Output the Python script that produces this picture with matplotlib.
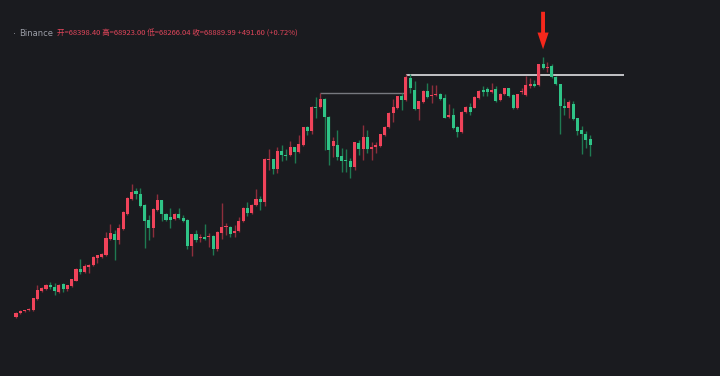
import numpy as np
import matplotlib
matplotlib.use('Agg')
import matplotlib.pyplot as plt

# candle values (screen rows, smaller = higher price)
opens = [317.3, 313.3, 311.3, 310.3, 310, 299, 291, 289.3, 284.7, 286.7,
         292, 284, 289.3, 286, 280.7, 269.3, 272, 267.3, 265.3, 258,
         257.3, 254.7, 239.3, 233.7, 240.3, 229, 213.7, 199, 191, 193.7,
         205, 220.3, 227.7, 209.7, 200.3, 213.7, 217, 219, 213.7, 217.7,
         219.7, 246.3, 234.3, 238.3, 237, 237.3, 236, 248.7, 232.7, 227.3,
         226.7, 233.3, 230.7, 220.7, 208, 213.3, 205.3, 198.7, 202, 160,
         159.3, 168.7, 150.7, 154.7, 155.3, 147.3, 152, 144.7, 126.7, 131.3,
         106.7, 107.3, 98.7, 117, 146, 145, 156, 160, 161.3, 166.7,
         142.7, 149.3, 137.3, 148.7, 147.3, 146, 135.3, 126.7, 112.7, 108,
         96, 100, 77.5, 90, 109.3, 102, 90.7, 96, 95.3, 94,
         98, 117.3, 115.3, 127, 132.3, 112.3, 107, 107.7, 98.3, 89.7,
         89, 91.7, 89, 100.3, 94.3, 88.3, 95, 107.7, 92.3, 95,
         85.7, 83.7, 85, 64.3, 68.3, 66.3, 77, 84.3, 105.7, 107.7,
         103.7, 118.3, 130.3, 133.7, 139]
highs = [312, 310, 309.5, 308, 297.5, 284.7, 287, 284, 282, 282.7,
         284, 283, 285, 278.5, 268, 258.7, 264, 264, 256, 254.5,
         253, 232, 223.5, 229.7, 223.7, 211, 197, 184.3, 187.7, 187.7,
         204, 215, 208, 194.3, 199.5, 212.5, 208.3, 213, 207.7, 215,
         219, 233.5, 230.3, 234.3, 223.5, 233, 235, 231, 202.7, 223,
         225.5, 224.7, 217.3, 207, 202, 204, 189.3, 196, 158, 149.3,
         158.5, 146.7, 144.7, 149.3, 140.7, 146.5, 135.3, 126.5, 126, 106,
         97.3, 93.3, 98, 116, 137.3, 130, 148, 149.3, 158, 141.5,
         140, 125.3, 130, 142, 141.7, 133.5, 126, 112, 99.3, 95.5,
         93.3, 73.7, 74, 80.7, 100.5, 90, 83.3, 85, 84.7, 93,
         94, 104, 108, 126, 111, 106, 103, 96, 90, 86,
         87, 83, 86, 93, 87.5, 87.5, 94, 93.5, 88.3, 76.3,
         77.7, 80, 63.5, 57, 62.3, 63.7, 76, 83.5, 98.3, 99.7,
         101, 117.5, 126.3, 131, 135]
lows = [318, 314, 312, 311, 310.5, 300, 292, 290, 288.7, 295.3,
        293, 292, 291, 287, 281, 274, 273, 272.7, 266, 262.7,
        258, 255.5, 240, 260.3, 243.7, 230, 214.5, 200, 199, 206.5,
        248.3, 240.3, 237, 210.5, 221, 220.5, 228.3, 220, 219, 222,
        249, 256.3, 241.7, 241.7, 240, 246.7, 254.7, 251.3, 239.3, 234.7,
        237.3, 237.3, 231.5, 221.5, 216, 214, 206, 210, 206, 170,
        174, 172.7, 160.7, 160, 156, 163.3, 152.7, 145.5, 135, 133.7,
        118.3, 108, 150, 165, 156.7, 160, 172, 172, 178, 170,
        155, 160, 153.3, 160, 153, 146.5, 136, 127.5, 121.7, 108.5,
        110, 100.5, 93.3, 109.5, 120, 102.5, 98, 103, 96, 100,
        118, 118, 128.5, 137, 133, 113, 115, 108, 99, 96,
        95.7, 92.5, 102, 101, 95, 96.5, 108.5, 108.5, 94.3, 96,
        88.3, 86.5, 85.5, 69, 72.3, 77.5, 85, 134.3, 115, 118.3,
        119.5, 135, 153.7, 148, 156.3]
closes = [312.7, 310.7, 310, 308.7, 298, 290, 288, 284.7, 287.3, 291.3,
          284.7, 288.7, 285.3, 279.3, 269.3, 272, 266, 264.7, 256.7, 255.3,
          254, 238, 233.3, 239.7, 227.7, 212.3, 197.7, 191.7, 194.3, 205.7,
          221, 228.3, 209, 199.7, 214.3, 219.7, 219.7, 213.7, 218.3, 221,
          246.3, 234.3, 239.7, 237, 239, 236, 248.7, 232, 226.7, 226,
          234, 230.7, 220.7, 208, 213.3, 204.7, 198.7, 202, 159.3, 158.7,
          168.7, 150.7, 155.3, 156, 147.3, 152, 144, 127.3, 131.3, 106.7,
          107.7, 98.7, 117.3, 150, 141.3, 157, 160.7, 161.3, 166.7, 142,
          149.3, 137.3, 148.7, 146.7, 145.3, 134, 126.7, 112.7, 107.3, 96,
          100, 77.3, 88, 108.7, 101.3, 90.7, 97.3, 94.7, 94, 99.3,
          117.5, 115.3, 128, 132, 111.7, 107, 111.7, 97, 91, 92.3,
          92, 89.7, 101, 93.7, 88.3, 95.7, 107.7, 94.3, 91, 85,
          83.7, 85.7, 64.3, 68.3, 67, 77, 84.3, 105.7, 108.3, 102.3,
          119, 131, 133.7, 139.7, 145]

peak_idx = 123          # candle marked by the arrow
prev_top_idx = 71       # earlier swing high
break_idx = 91          # candle that set the resistance line

header_name = 'Binance'
header_vals = '开=68398.40 高=68923.00 低=68266.04 收=68889.99 +491.60 (+0.72%)'

BG = '#1a1b1f'
UP = '#f0435a'
DOWN = '#2fc487'
UP_WICK = '#8e2e3c'
DOWN_WICK = '#1f7a52'

W, H = 720, 376
fig = plt.figure(figsize=(W / 100, H / 100), dpi=100, facecolor=BG)
ax = fig.add_axes([0, 0, 1, 1])
ax.set_facecolor(BG)

o = np.array(opens); c = np.array(closes)
hi = np.array(highs); lo = np.array(lows)
idx = np.arange(len(o))
up = c < o   # rows grow downward, so a smaller close row means a rise

step = 4.285   # pixels per candle
x0 = 16
ax.set_xlim(-x0 / step, (W - x0) / step)
ax.set_ylim(H, 0)

wick_cols = np.where(up, UP_WICK, DOWN_WICK)
body_cols = np.where(up, UP, DOWN)
ax.vlines(idx, hi, lo, colors=wick_cols, linewidth=1.0, zorder=2)
body_h = np.maximum(np.abs(o - c), 1.2)
ax.bar(idx, body_h, bottom=np.minimum(o, c), width=0.72, color=body_cols,
       linewidth=0, zorder=3)

# swing-high lines
ax.hlines(hi[prev_top_idx], prev_top_idx, break_idx, colors='#77797f',
          linewidth=1.0, zorder=1)
ax.hlines(hi[break_idx] + 0.8, break_idx, (624 - x0) / step, colors='#cfd0d3',
          linewidth=1.3, zorder=1)

# arrow above the top
ax.annotate('', xy=(peak_idx, hi[peak_idx] - 5), xytext=(peak_idx, 9),
            arrowprops=dict(arrowstyle='simple,head_length=1.2,head_width=0.8,tail_width=0.28',
                            color='#f5281c', lw=0), zorder=5)

ax.axis('off')

fig.text(14 / W, 1 - 34 / H, '·', color='#8a8d96', fontsize=7, va='center', ha='center')
fig.text(19 / W, 1 - 34 / H, header_name, color='#9a9da6', fontsize=6,
         va='center', ha='left')
fig.text(57 / W, 1 - 34 / H, header_vals, color='#e2465b', fontsize=5.45,
         va='center', ha='left', family=['Noto Sans CJK SC', 'DejaVu Sans'])

fig.savefig('out.png', dpi=100, facecolor=BG)
